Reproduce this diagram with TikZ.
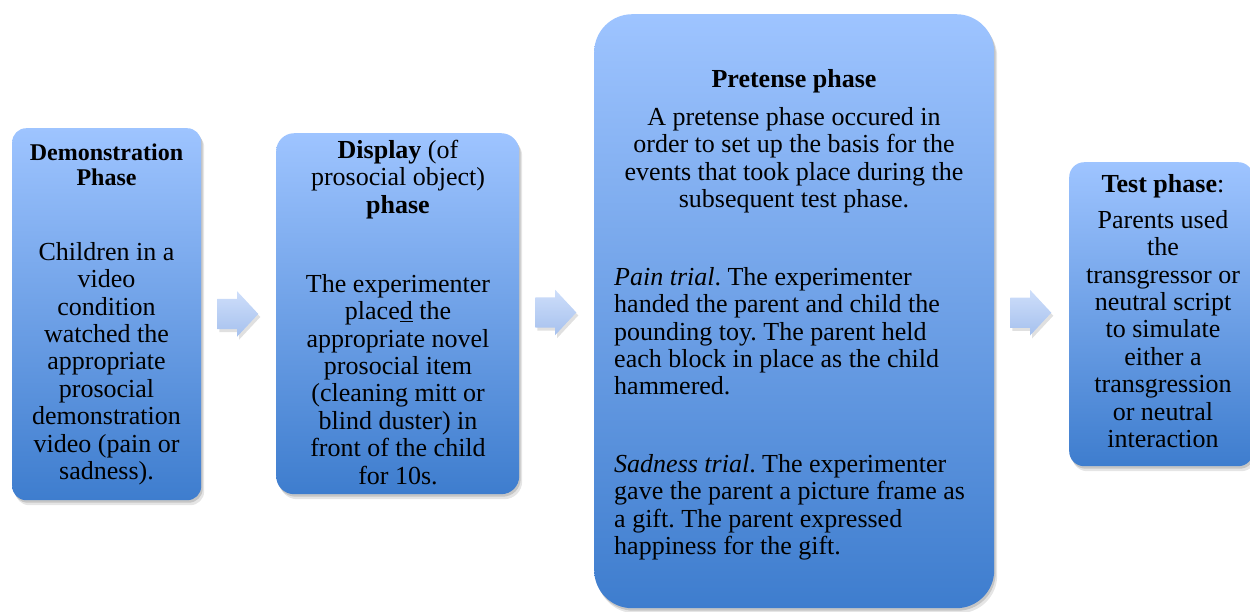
\documentclass[tikz,border=0pt]{standalone}
\usepackage{fontspec}
\setmainfont{Liberation Serif}
\usetikzlibrary{shadows,shapes.arrows,calc}
\definecolor{boxtop}{RGB}{158,196,255}
\definecolor{boxbot}{RGB}{62,125,206}
\definecolor{arrtop}{RGB}{206,222,250}
\definecolor{arrbot}{RGB}{166,193,238}
\newcommand{\fl}{\rule{0pt}{20pt}}
\frenchspacing
\begin{document}
\begin{tikzpicture}[x=1pt,y=-1pt,
  phasebox/.style={draw=none, rounded corners=#1, top color=boxtop, bottom color=boxbot,
    inner sep=0pt, anchor=north west,
    general shadow={fill=black, opacity=.10, shadow xshift=3pt, shadow yshift=-5pt},
    general shadow={fill=black, opacity=.14, shadow xshift=1.5pt, shadow yshift=-2.5pt}},
  blockarrow/.style={single arrow, draw=none, top color=arrtop, bottom color=arrbot,
    inner xsep=0pt, inner ysep=15pt, minimum height=41pt, minimum width=0pt,
    single arrow head extend=7.5pt, single arrow tip angle=94, xshift=-8pt,
    general shadow={fill=black, opacity=.12, shadow xshift=2pt, shadow yshift=-3pt}},
  txt/.style={inner sep=0pt, font=\fontsize{26}{27.4}\selectfont, align=center, anchor=north},
  ltxt/.style={txt, align=left, anchor=north west},
  smalltitle/.style={txt, font=\fontsize{24}{25}\selectfont\bfseries}
]
\useasboundingbox (0,0) rectangle (1250,611);

% boxes
\node[phasebox=14pt, minimum width=189pt, minimum height=372pt] (b1) at (12,128) {};
\node[phasebox=18pt, minimum width=243pt, minimum height=361pt] (b2) at (276,133) {};
\node[phasebox=38pt, minimum width=400pt, minimum height=594pt] (b3) at (594,14) {};
\node[phasebox=15pt, minimum width=184pt, minimum height=304pt] (b4) at (1069,162) {};

% arrows
\node[blockarrow] (a1) at ($(b1.east)!0.5!(b2.west)$) {};
\node[blockarrow] (a2) at ($(b2.east)!0.5!(b3.west)$) {};
\node[blockarrow] (a3) at ($(b3.east)!0.5!(b4.west)$) {};

% box 1 text
\node[smalltitle] (t1) at (106.5,140) {\fl Demonstration\\Phase};
\node[txt] (d1) at (106.5,240) {\fl Children in a\\video\\condition\\watched the\\appropriate\\prosocial\\demonstration\\video (pain or\\sadness).};

% box 2 text
\node[txt] (t2) at (398,138) {\fl\textbf{Display} (of\\prosocial object)\\\textbf{phase}};
\node[txt] (d2) at (398,272) {\fl The experimenter\\place\underline{d} the\\appropriate novel\\prosocial item\\(cleaning mitt or\\blind duster) in\\front of the child\\for 10s.};

% box 3 text
\node[txt, font=\fontsize{26}{27.4}\selectfont\bfseries] (t3) at (794,67) {\fl Pretense phase};
\node[txt] (d3) at (794,105) {\fl A pretense phase occured in\\order to set up the basis for the\\events that took place during the\\subsequent test phase.};
\node[ltxt] (p3) at (614,265) {\fl\textit{Pain trial}. The experimenter\\handed the parent and child the\\pounding toy. The parent held\\each block in place as the child\\hammered.};
\node[ltxt] (s3) at (614,452) {\fl\textit{Sadness trial}. The experimenter\\gave the parent a picture frame as\\a gift. The parent expressed\\happiness for the gift.};

% box 4 text
\node[txt] (t4) at (1163,172) {\fl\textbf{Test phase}:};
\node[txt] (d4) at (1163,208) {\fl Parents used\\the\\transgressor or\\neutral script\\to simulate\\either a\\transgression\\or neutral\\interaction};
\end{tikzpicture}
\end{document}
